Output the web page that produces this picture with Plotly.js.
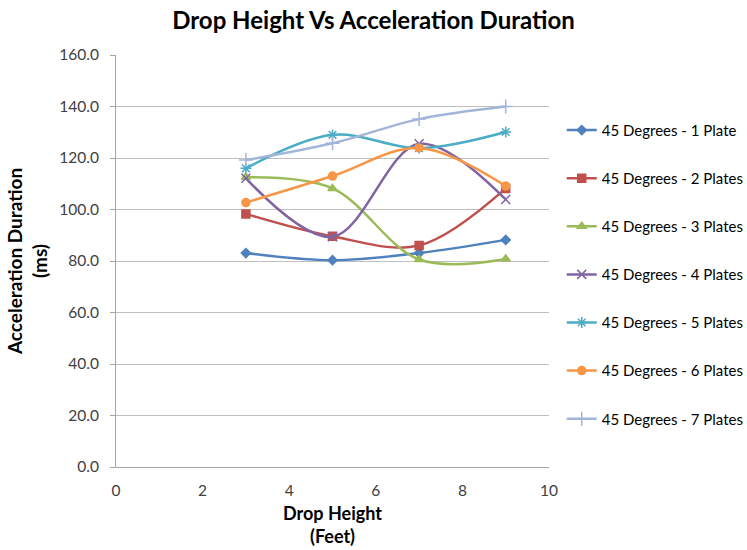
<!DOCTYPE html>
<html>
<head>
<meta charset="utf-8">
<script src="https://cdn.plot.ly/plotly-3.0.1.min.js"></script>
<style>html,body{margin:0;padding:0;background:#fff;}#chart{width:747px;height:550px;}</style>
</head>
<body>
<div id="chart"></div>
<script>
const dropHeights = [3, 5, 7, 9];
const seriesNames = [
  "45 Degrees - 1 Plate",
  "45 Degrees - 2 Plates",
  "45 Degrees - 3 Plates",
  "45 Degrees - 4 Plates",
  "45 Degrees - 5 Plates",
  "45 Degrees - 6 Plates",
  "45 Degrees - 7 Plates"
];
const plate1 = [83.1, 80.3, 83.1, 88.2];
const plate2 = [98.3, 89.6, 86.0, 108.2];
const plate3 = [112.5, 108.2, 80.6, 80.8];
const plate4 = [112.1, 89.4, 125.5, 103.9];
const plate5 = [116.0, 129.0, 123.8, 130.1];
const plate6 = [102.7, 113.0, 123.9, 109.1];
const plate7 = [119.2, 125.7, 135.1, 140.0];
const yTicks = [0, 20, 40, 60, 80, 100, 120, 140, 160];
const xTicks = [0, 2, 4, 6, 8, 10];

const allSeries = [plate1, plate2, plate3, plate4, plate5, plate6, plate7];
const colors = ["#4F81BD", "#C0504D", "#9BBB59", "#8064A2", "#4BACC6", "#F79646", "#A3B5D9"];
const symbols = ["diamond", "square", "triangle-up", "x-thin-open", "asterisk-open", "circle", "cross-thin-open"];
const sizes = [7, 8, 8, 9, 9, 8, 10];

const font = "Lato, 'Open Sans', sans-serif";

const traces = allSeries.map((vals, i) => ({
  x: dropHeights,
  y: vals,
  name: seriesNames[i],
  legendgroup: "g" + i,
  type: "scatter",
  mode: "lines+markers",
  line: {color: colors[i], width: 2.5, shape: "spline", smoothing: 1},
  marker: {symbol: symbols[i], size: sizes[i], color: colors[i], line: {color: colors[i], width: 1.5}}
}));

const layout = {
  width: 747, height: 550,
  margin: {l: 116, r: 198, t: 55, b: 83},
  paper_bgcolor: "#fff", plot_bgcolor: "#fff",
  font: {family: font, color: "#404040", size: 15},
  title: {text: "<b>Drop Height Vs Acceleration Duration</b>", font: {family: font, size: 24, color: "#000"}, x: 0.5, xanchor: "center", y: 0.962, yanchor: "middle"},
  xaxis: {
    range: [0, 10], tickvals: xTicks, ticktext: xTicks.map(String),
    showgrid: false, zeroline: false, showline: true, linecolor: "#A6A6A6", linewidth: 1,
    ticks: "", ticklen: 0, ticklabelstandoff: 9, tickfont: {size: 15.5, color: "#404040"},
    title: {text: "<b>Drop Height<br>(Feet)</b>", font: {size: 18, color: "#000"}, standoff: 9}
  },
  yaxis: {
    range: [0, 160], tickvals: yTicks, ticktext: yTicks.map(v => v.toFixed(1)),
    showgrid: true, gridcolor: "#BFBFBF", gridwidth: 1, zeroline: false,
    showline: true, linecolor: "#A6A6A6", linewidth: 1,
    ticks: "outside", ticklen: 5, tickcolor: "#A6A6A6", ticklabelstandoff: 8,
    tickfont: {size: 15.5, color: "#404040"},
    title: {text: "<b>Acceleration Duration<br>(ms)</b>", font: {size: 19, color: "#000"}, standoff: 6}
  },
  showlegend: true,
  legend: {
    xref: "container", yref: "container",
    x: 0.752, xanchor: "left", y: 0.793, yanchor: "top",
    font: {size: 15, color: "#000"},
    tracegroupgap: 25.6, itemwidth: 30, maxheight: 1, bgcolor: "rgba(0,0,0,0)"
  }
};

Plotly.newPlot("chart", traces, layout, {staticPlot: true, displayModeBar: false});
</script>
</body>
</html>
